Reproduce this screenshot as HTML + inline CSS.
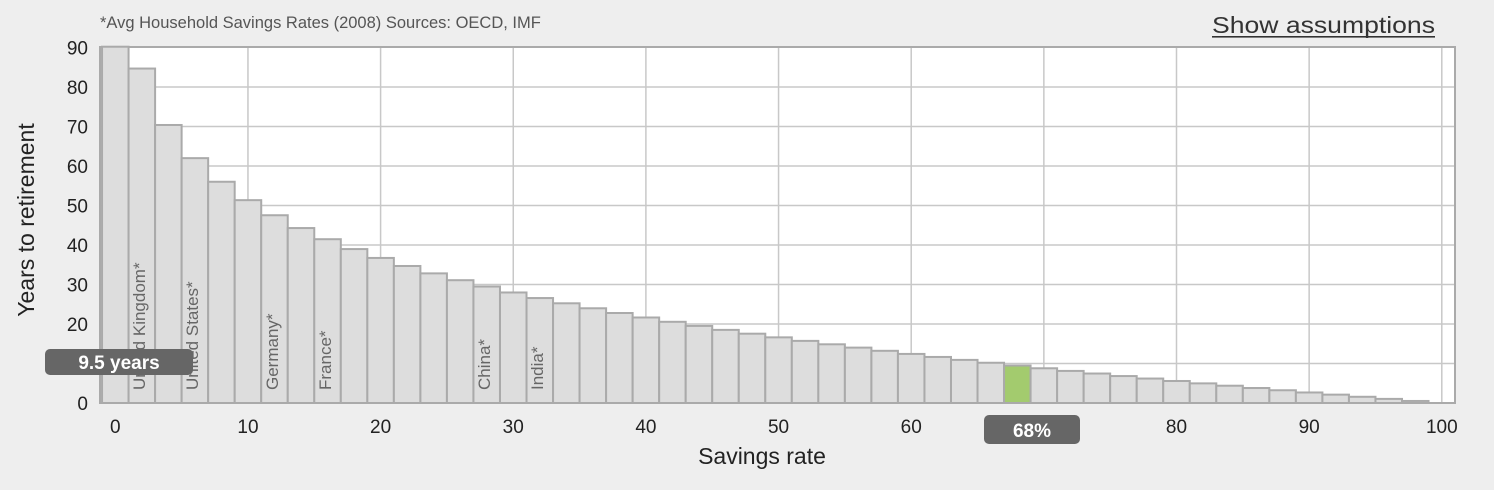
<!DOCTYPE html>
<html><head><meta charset="utf-8"><style>
html,body{margin:0;padding:0;background:#eee;}
svg{display:block;font-family:"Liberation Sans",Arial,sans-serif;}
</style></head><body>
<svg id="s" width="1494" height="490" viewBox="0 0 1494 490" xmlns="http://www.w3.org/2000/svg">
<rect width="1494" height="490" fill="#eeeeee"/>
<text x="100" y="28" font-size="16.5" fill="#555">*Avg Household Savings Rates (2008) Sources: OECD, IMF</text>
<text x="1212" y="33" font-size="23" fill="#333" textLength="223" lengthAdjust="spacingAndGlyphs">Show assumptions</text>
<rect x="1212" y="36" width="223" height="1.6" fill="#333"/>
<rect x="100" y="47" width="1355" height="356" fill="#fff" stroke="#aaa" stroke-width="2"/>
<g id="grid" stroke="#c8c8c8" stroke-width="1.5"></g>
<g id="bars"></g>
<g id="ticks" font-size="19" fill="#222"></g>
<g font-size="17" fill="#666">
<text transform="translate(145,390) rotate(-90)">United Kingdom*</text>
<text transform="translate(198,390) rotate(-90)">United States*</text>
<text transform="translate(278,390) rotate(-90)">Germany*</text>
<text transform="translate(331,390) rotate(-90)">France*</text>
<text transform="translate(490,390) rotate(-90)">China*</text>
<text transform="translate(543,390) rotate(-90)">India*</text>
</g>
<text transform="translate(34,220) rotate(-90)" font-size="23" fill="#222" text-anchor="middle">Years to retirement</text>
<text x="762" y="464" font-size="23" fill="#222" text-anchor="middle">Savings rate</text>
<rect x="45" y="349" width="148" height="26" rx="5" fill="#666"/>
<text x="119" y="369" font-size="19" font-weight="bold" fill="#fff" text-anchor="middle">9.5 years</text>
<rect x="984" y="415" width="96" height="29" rx="5" fill="#666"/>
<text x="1032" y="437" font-size="19" font-weight="bold" fill="#fff" text-anchor="middle">68%</text>
</svg>
<script>
(function(){
var NS="http://www.w3.org/2000/svg";
function el(p,t,a,txt){var e=document.createElementNS(NS,t);for(var k in a)e.setAttribute(k,a[k]);if(txt!=null)e.textContent=txt;document.getElementById(p).appendChild(e);return e;}
var x0=115.3,u=13.265,yb=403,yu=3.95;
for(var v=10;v<=100;v+=10){var x=x0+v*u;el("grid","line",{x1:x,x2:x,y1:48,y2:402});}
for(var g=10;g<=80;g+=10){var yy=yb-g*yu;el("grid","line",{x1:101,x2:1454,y1:yy,y2:yy});}
for(var v2=0;v2<=100;v2+=10){el("ticks","text",{x:x0+v2*u,y:433,"text-anchor":"middle"},String(v2));}
for(var g2=0;g2<=90;g2+=10){el("ticks","text",{x:88,y:yb-g2*yu+7,"text-anchor":"end"},String(g2));}
for(var k=0;k<=50;k++){
 var s=k/50,h;
 if(k==0)h=90.2;else if(k==50)h=0;else h=Math.log(1+1.25*(1-s)/s)/Math.log(1.05);
 if(h>90.2)h=90.2;
 var bl=x0+(2*k-1)*u, bt=yb-h*yu;
 el("bars","rect",{x:bl,y:bt,width:2*u,height:Math.max(h*yu,0),fill:k==34?"#a3cb6e":"#dddddd",stroke:"#aaa","stroke-width":2});
}
})();
</script>
</body></html>
